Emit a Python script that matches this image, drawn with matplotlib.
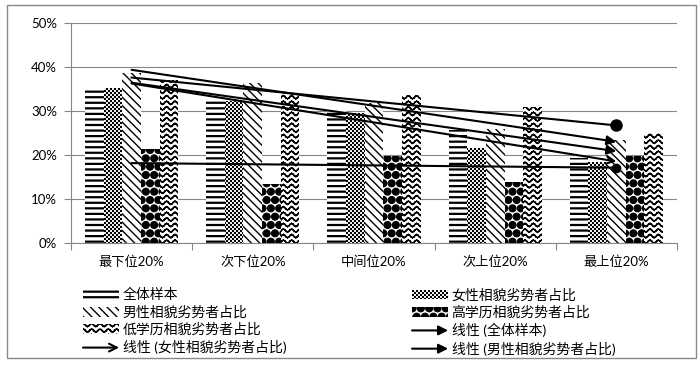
import warnings
import numpy as np
import matplotlib
matplotlib.use('Agg')
import matplotlib.pyplot as plt
from matplotlib.path import Path
from matplotlib.patches import Rectangle, FancyArrowPatch, Patch
from matplotlib.lines import Line2D
from matplotlib.legend_handler import HandlerBase
from matplotlib.ticker import PercentFormatter, FixedLocator
import matplotlib.hatch as mhatch

warnings.filterwarnings('ignore')

categories = ['最下位20%', '次下位20%', '中间位20%', '次上位20%', '最上位20%']
all_sample = [35.2, 32.8, 30.2, 25.7, 19.3]
female = [35.2, 32.3, 29.5, 21.6, 18.4]
male = [38.6, 36.3, 31.8, 25.8, 23.4]
high_edu = [21.4, 13.3, 19.8, 13.9, 19.8]
low_edu = [37.0, 34.2, 33.6, 31.0, 25.0]

series_names = ['全体样本', '女性相貌劣势者占比', '男性相貌劣势者占比',
                '高学历相貌劣势者占比', '低学历相貌劣势者占比']
trend_names = ['线性 (全体样本)', '线性 (女性相貌劣势者占比)', '线性 (男性相貌劣势者占比)']


# extra hatch patterns: '~' wave rows, '#' fine checkerboard, '@' filled dots
class WaveHatch(mhatch.HatchPatternBase):
    def __init__(self, hatch, density):
        self.num_rows = hatch.count('~') * density
        self.num_waves = self.num_rows * 2 // 3
        self.seg = 6
        self.num_vertices = self.num_rows * self.num_waves * self.seg * 2

    def set_vertices_and_codes(self, vertices, codes):
        t = np.linspace(0, 1, self.num_waves * self.seg + 1)
        amp = 0.28 / self.num_rows
        k = 0
        for i in range(self.num_rows):
            y0 = (i + 0.5) / self.num_rows
            ys = y0 + amp * np.cos(2 * np.pi * self.num_waves * t)
            for j in range(len(t) - 1):
                vertices[k] = (t[j], ys[j])
                vertices[k + 1] = (t[j + 1], ys[j + 1])
                codes[k] = Path.MOVETO
                codes[k + 1] = Path.LINETO
                k += 2


class CheckerHatch(mhatch.HatchPatternBase):
    def __init__(self, hatch, density):
        self.n = hatch.count('#') * 25
        self.num_vertices = (self.n * self.n // 2) * 5

    def set_vertices_and_codes(self, vertices, codes):
        s = 1.0 / self.n
        k = 0
        for i in range(self.n):
            for j in range(self.n):
                if (i + j) % 2 == 0:
                    vertices[k:k + 5] = [(j * s, i * s), ((j + 1) * s, i * s),
                                         ((j + 1) * s, (i + 1) * s), (j * s, (i + 1) * s),
                                         (j * s, i * s)]
                    codes[k:k + 5] = [Path.MOVETO, Path.LINETO, Path.LINETO,
                                      Path.LINETO, Path.CLOSEPOLY]
                    k += 5


class DotHatch(mhatch.Circles):
    size = 0.42
    filled = True

    def __init__(self, hatch, density):
        self.num_rows = hatch.count('@') * density
        super().__init__(hatch, density)


mhatch._hatch_types += [WaveHatch, CheckerHatch, DotHatch]

plt.rcParams['font.family'] = ['Lato', 'Noto Sans CJK SC', 'DejaVu Sans']

hatches = ['---', '##', '\\\\\\\\', '@@', '~~~']
hatch_lw = [1.6, 0.05, 1.0, 0.8, 1.1]
values = [all_sample, female, male, high_edu, low_edu]


def set_hatch_lw(artist, lw):
    # per-artist hatch linewidth (stored on the patch, or read at draw time)
    artist._hatch_linewidth = lw
    orig = artist.draw

    def draw(renderer):
        with plt.rc_context({'hatch.linewidth': lw}):
            orig(renderer)
    artist.draw = draw


fig = plt.figure(figsize=(7, 3.67), dpi=100)
ax = fig.add_axes([71 / 700, 1 - 243 / 367, 606 / 700, 220 / 367])

x = np.arange(len(categories))
w = 1 / 6.5
bar_handles = []
for i, (vals, name, h) in enumerate(zip(values, series_names, hatches)):
    bars = ax.bar(x + (i - 2) * w, vals, w, facecolor='white', edgecolor='black',
                  linewidth=0, hatch=h, label=name, zorder=2)
    for b in bars:
        set_hatch_lw(b, hatch_lw[i])
    bar_handles.append(Patch(facecolor='white', edgecolor='black', linewidth=0, hatch=h))

# linear trendlines of every series
ends = ['-|>', '->', '-|>', 6, 8]
for vals, end in zip(values, ends):
    k, b0 = np.polyfit(x, vals, 1)
    y0, y1 = b0, b0 + k * x[-1]
    if isinstance(end, int):
        ax.plot([x[0], x[-1]], [y0, y1], color='black', lw=1.5, zorder=3)
        ax.plot([x[-1]], [y1], 'o', color='black', ms=end, zorder=3)
    else:
        ax.annotate('', xy=(x[-1], y1), xytext=(x[0], y0),
                    arrowprops=dict(arrowstyle=end, color='black', lw=1.5,
                                    mutation_scale=14, shrinkA=0, shrinkB=0),
                    zorder=3)

ax.set_xlim(-0.5, 4.5)
ax.set_ylim(0, 50)
ax.set_yticks([0, 10, 20, 30, 40, 50])
ax.yaxis.set_major_formatter(PercentFormatter(100, decimals=0))
ax.set_xticks(x)
ax.set_xticklabels(categories)
ax.xaxis.set_minor_locator(FixedLocator(np.arange(-0.5, 5, 1)))
ax.tick_params(axis='x', which='major', length=0, pad=9, labelsize=9.5)
ax.tick_params(axis='x', which='minor', length=5, color='#868686', width=0.8)
ax.tick_params(axis='y', length=5, color='#868686', width=0.8, pad=5, labelsize=9.5)
ax.grid(axis='y', color='#868686', lw=0.8, zorder=0)
ax.set_axisbelow(True)
for s in ['top', 'right']:
    ax.spines[s].set_visible(False)
for s in ['left', 'bottom']:
    ax.spines[s].set_color('#868686')
    ax.spines[s].set_linewidth(0.8)


class ArrowHandler(HandlerBase):
    def __init__(self, style):
        super().__init__()
        self.style = style

    def create_artists(self, legend, orig_handle, xdescent, ydescent, width, height, fontsize, trans):
        y = height / 2 - ydescent
        a = FancyArrowPatch((-xdescent, y), (-xdescent + width, y), arrowstyle=self.style,
                            mutation_scale=14, lw=1.5, color='black', shrinkA=0, shrinkB=0,
                            transform=trans)
        return [a]


line_handles = [Line2D([], []) for _ in trend_names]
hmap = {line_handles[0]: ArrowHandler('-|>'), line_handles[1]: ArrowHandler('->'),
        line_handles[2]: ArrowHandler('-|>')}

all_handles = bar_handles + line_handles
all_labels = series_names + trend_names
legend_kw = dict(loc='upper left', frameon=False, fontsize=10, handlelength=2.6,
                 handleheight=0.7, handletextpad=0.25, labelspacing=0.3,
                 borderpad=0, borderaxespad=0, handler_map=hmap)
for idx, left in [([0, 2, 4, 6], 83), ([1, 3, 5, 7], 412)]:
    leg = fig.legend([all_handles[i] for i in idx], [all_labels[i] for i in idx],
                     bbox_to_anchor=(left / 700, 1 - 288 / 367), **legend_kw)
    for art, i in zip(leg.legend_handles, idx):
        if i < len(hatch_lw):
            set_hatch_lw(art, hatch_lw[i])

fig.patches.append(Rectangle((7 / 700, 1 - 358 / 367), 689 / 700, 353 / 367,
                             transform=fig.transFigure, fill=False,
                             edgecolor='#898989', lw=1))

fig.savefig('out.png', dpi=100)
